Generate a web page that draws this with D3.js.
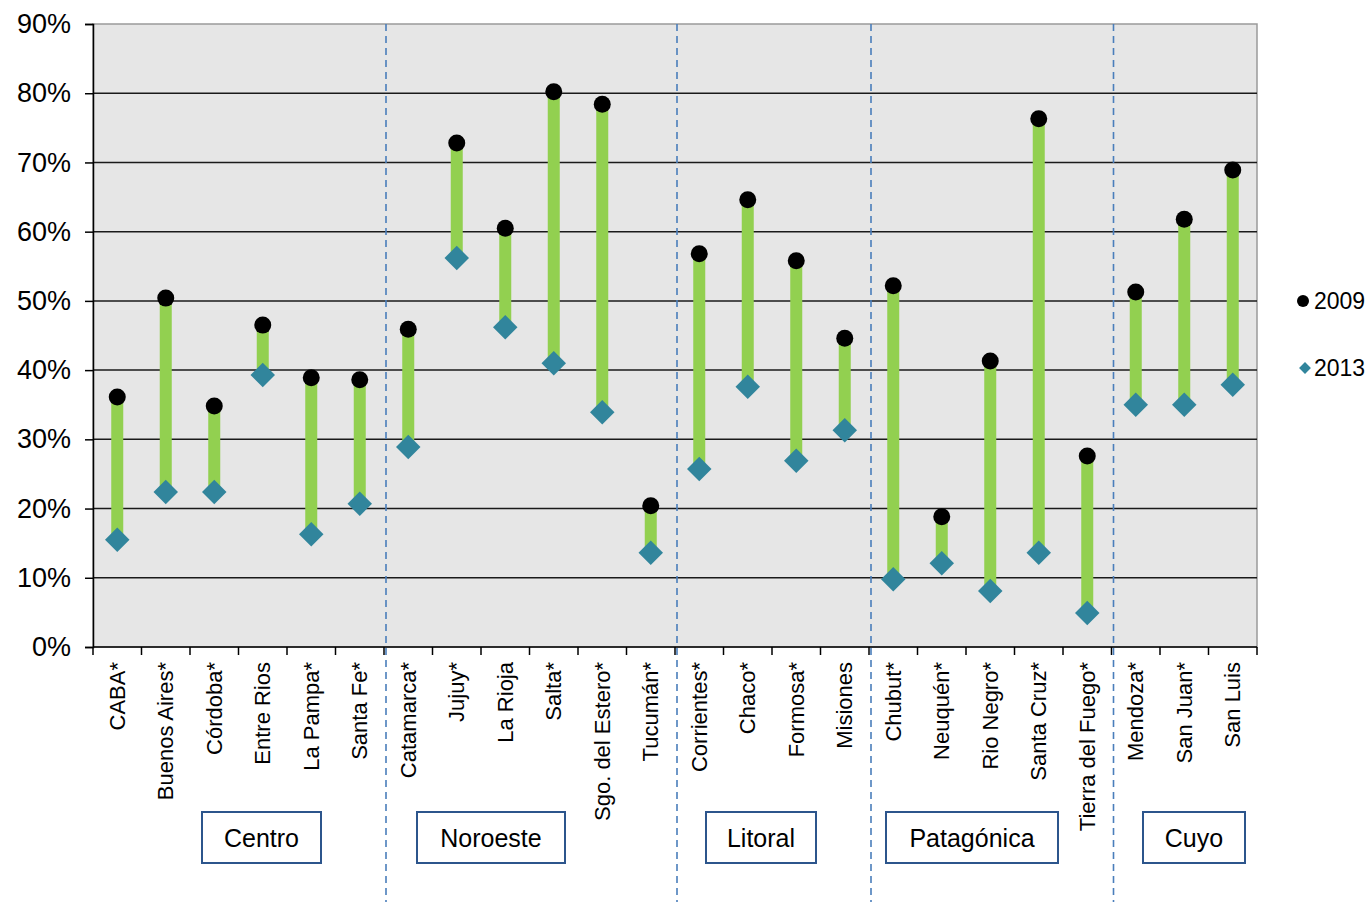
<!DOCTYPE html>
<html>
<head>
<meta charset="utf-8">
<script src="https://cdn.jsdelivr.net/npm/d3@7"></script>
<style>
  body { margin: 0; background: #fff; }
  text { font-family: "Liberation Sans", Arial, sans-serif; fill: #000; }
</style>
</head>
<body>
<svg id="chart" width="1369" height="902"></svg>
<script>
// provinces, left to right
const provinces = ["CABA*", "Buenos Aires*", "Córdoba*", "Entre Rios", "La Pampa*", "Santa Fe*",
  "Catamarca*", "Jujuy*", "La Rioja", "Salta*", "Sgo. del Estero*", "Tucumán*",
  "Corrientes*", "Chaco*", "Formosa*", "Misiones",
  "Chubut*", "Neuquén*", "Rio Negro*", "Santa Cruz*", "Tierra del Fuego*",
  "Mendoza*", "San Juan*", "San Luis"];

const v2009 = [36.1, 50.4, 34.8, 46.5, 38.9, 38.6,
  45.9, 72.8, 60.5, 80.2, 78.4, 20.4,
  56.8, 64.6, 55.8, 44.6,
  52.2, 18.8, 41.3, 76.3, 27.6,
  51.3, 61.8, 68.9];

const v2013 = [15.5, 22.4, 22.4, 39.3, 16.3, 20.7,
  28.9, 56.2, 46.2, 41.0, 33.9, 13.6,
  25.7, 37.6, 26.9, 31.3,
  9.8, 12.1, 8.1, 13.6, 4.9,
  35.0, 35.0, 37.9];

const regions = ["Centro", "Noroeste", "Litoral", "Patagónica", "Cuyo"];
const regionSizes = [6, 6, 4, 5, 3];
const yTicks = [0, 10, 20, 30, 40, 50, 60, 70, 80, 90];

const svg = d3.select("#chart");
const pLeft = 93, pRight = 1257, pTop = 24, pBottom = 647;

const x = d3.scaleBand().domain(provinces).range([pLeft, pRight]);
const y = d3.scaleLinear().domain([0, 90]).range([pBottom, pTop]);

// plot background
svg.append("rect")
  .attr("x", pLeft).attr("y", pTop)
  .attr("width", pRight - pLeft).attr("height", pBottom - pTop)
  .attr("fill", "#e6e6e6")
  .attr("stroke", "#9a9a9a").attr("stroke-width", 1.5);

// gridlines
svg.append("g")
  .selectAll("line")
  .data(yTicks.filter(d => d > 0 && d < 90))
  .join("line")
  .attr("x1", pLeft).attr("x2", pRight)
  .attr("y1", d => y(d)).attr("y2", d => y(d))
  .attr("stroke", "#1a1a1a").attr("stroke-width", 1.5);

// y axis
const yAxis = svg.append("g")
  .attr("transform", `translate(${pLeft},0)`)
  .call(d3.axisLeft(y).tickValues(yTicks).tickFormat(d => d + "%").tickSize(8).tickPadding(14));
yAxis.select(".domain").attr("stroke", "#000").attr("stroke-width", 1.5);
yAxis.selectAll(".tick line").attr("stroke", "#000").attr("stroke-width", 1.5);
yAxis.selectAll("text").attr("font-size", 27).attr("font-family", "Liberation Sans, Arial, sans-serif");

// x axis line and ticks between categories
svg.append("line")
  .attr("x1", pLeft).attr("x2", pRight).attr("y1", pBottom).attr("y2", pBottom)
  .attr("stroke", "#000").attr("stroke-width", 1.5);
const bounds = provinces.map(p => x(p)).concat([pRight]);
svg.append("g").selectAll("line")
  .data(bounds)
  .join("line")
  .attr("x1", d => d).attr("x2", d => d)
  .attr("y1", pBottom).attr("y2", pBottom + 8)
  .attr("stroke", "#000").attr("stroke-width", 1.5);

// category labels
svg.append("g").selectAll("text")
  .data(provinces)
  .join("text")
  .attr("transform", d => `translate(${x(d) + x.bandwidth() / 2},662) rotate(-90)`)
  .attr("text-anchor", "end")
  .attr("dy", "0.35em")
  .attr("font-size", 22)
  .text(d => d);

// region separators
let acc = 0;
const seps = [];
regionSizes.slice(0, -1).forEach(n => { acc += n; seps.push(x(provinces[acc])); });
svg.append("g").selectAll("line")
  .data(seps)
  .join("line")
  .attr("x1", d => d + 2).attr("x2", d => d + 2)
  .attr("y1", pTop).attr("y2", 902)
  .attr("stroke", "#4a7ebb").attr("stroke-width", 1.6)
  .attr("stroke-dasharray", "7,5");

// region boxes (hand placed like the original)
const boxLayout = [[202, 119], [417, 148], [706, 110], [886, 172], [1143, 102]];
const boxes = svg.append("g").selectAll("g")
  .data(regions)
  .join("g");
boxes.append("rect")
  .attr("x", (d, i) => boxLayout[i][0]).attr("y", 812)
  .attr("width", (d, i) => boxLayout[i][1]).attr("height", 51)
  .attr("fill", "#fff").attr("stroke", "#2c558c").attr("stroke-width", 2);
boxes.append("text")
  .attr("x", (d, i) => boxLayout[i][0] + boxLayout[i][1] / 2)
  .attr("y", 838).attr("dy", "0.35em")
  .attr("text-anchor", "middle")
  .attr("font-size", 25)
  .text(d => d);

// range bars
const cx = d => x(d) + x.bandwidth() / 2;
svg.append("g").selectAll("rect")
  .data(provinces)
  .join("rect")
  .attr("x", d => cx(d) - 6)
  .attr("width", 12)
  .attr("y", (d, i) => y(v2009[i]))
  .attr("height", (d, i) => y(v2013[i]) - y(v2009[i]))
  .attr("fill", "#92d050");

// 2013 diamonds
const diamond = d3.symbol().type(d3.symbolSquare).size(300);
svg.append("g").selectAll("path")
  .data(provinces)
  .join("path")
  .attr("d", diamond)
  .attr("transform", (d, i) => `translate(${cx(d)},${y(v2013[i])}) rotate(45)`)
  .attr("fill", "#31859c");

// 2009 dots
svg.append("g").selectAll("circle")
  .data(provinces)
  .join("circle")
  .attr("cx", cx)
  .attr("cy", (d, i) => y(v2009[i]))
  .attr("r", 8.5)
  .attr("fill", "#000");

// legend
const legend = svg.append("g");
legend.append("circle").attr("cx", 1303).attr("cy", 301).attr("r", 6).attr("fill", "#000");
legend.append("text").attr("x", 1314).attr("y", 301).attr("dy", "0.35em")
  .attr("font-size", 23).attr("fill", "#222").text("2009");
legend.append("path")
  .attr("d", d3.symbol().type(d3.symbolSquare).size(70))
  .attr("transform", "translate(1305,368) rotate(45)")
  .attr("fill", "#31859c");
legend.append("text").attr("x", 1314).attr("y", 368).attr("dy", "0.35em")
  .attr("font-size", 23).attr("fill", "#222").text("2013");
</script>
</body>
</html>
